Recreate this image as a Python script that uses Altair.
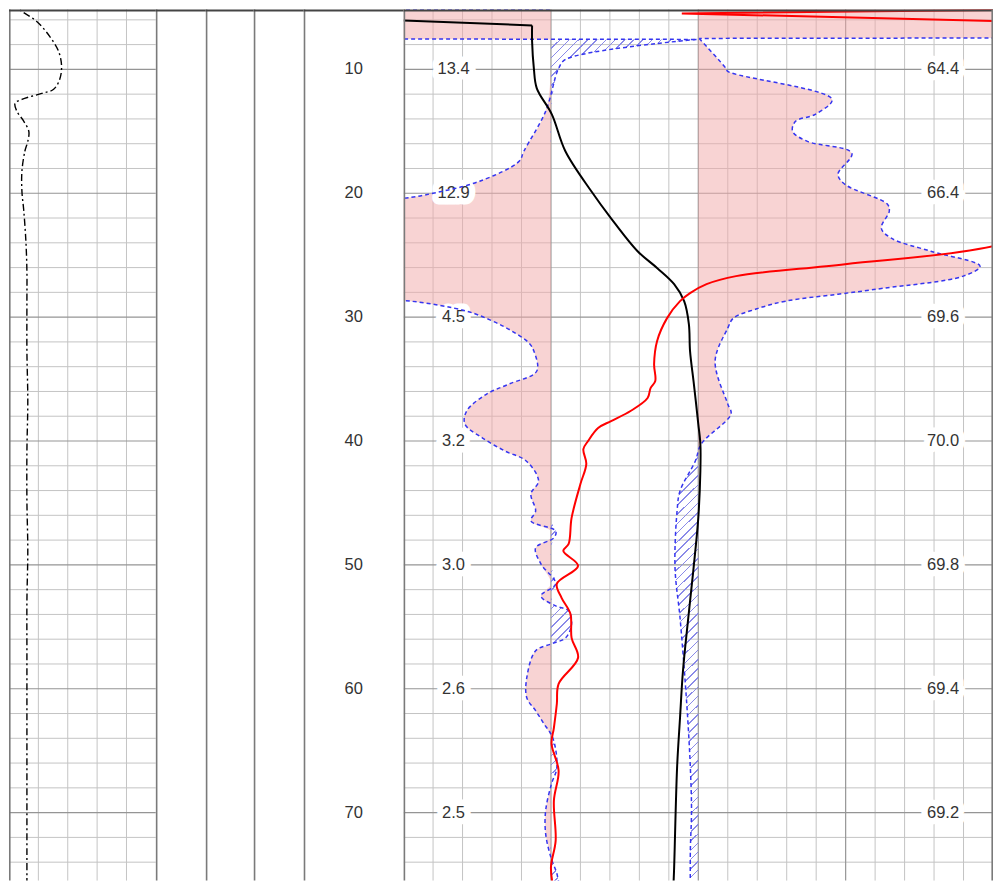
import math
import altair as alt
import pandas as pd

# ---------------- depth frame ----------------
H = 872
D0 = 5.1613
D1 = 75.484

# ---------------- data ----------------
# Track 1 dash-dot curve (value in % of track width)
t1_depth = [4.68, 5.32, 6.13, 7.34, 8.55, 9.76, 10.81, 11.61, 11.94, 12.42,
            12.74, 13.39, 14.19, 15.0, 15.81, 16.61, 18.23, 19.84, 21.45, 23.87,
            26.29, 28.71, 32.74, 36.77, 40.81, 44.84, 48.87, 52.9, 56.94, 60.97,
            65.0, 69.03, 73.06, 76.6]
t1_value = [2.0, 8.8, 18.9, 27.7, 33.8, 35.8, 34.5, 30.4, 22.3, 8.8,
            4.1, 5.4, 10.1, 13.5, 12.8, 10.8, 8.8, 8.8, 10.1, 11.5,
            12.2, 12.2, 12.2, 12.8, 12.2, 12.2, 12.8, 12.2, 12.2, 12.2,
            12.2, 12.2, 12.2, 12.2]

# Black solid curve (scale 60-80)
black_depth = [6.05, 6.45, 7.74, 9.92, 11.53, 13.63, 16.61, 19.84, 22.02, 24.68,
               26.05, 27.34, 28.71, 30.56, 32.74, 35.40, 38.63, 40.24, 42.42, 46.21,
               50.48, 54.27, 58.55, 62.34, 66.37, 74.44, 76.29]
black_value = [60.0, 64.36, 64.36, 64.42, 64.52, 65.03, 65.49, 66.37, 67.04, 67.94,
               68.61, 69.18, 69.52, 69.68, 69.72, 69.85, 70.0, 70.07, 70.07, 70.0,
               69.83, 69.66, 69.48, 69.38, 69.28, 69.18, 69.15]
BLACK_SPLIT = 6.45

# Red solid curve (scale 0-10)
red_depth = [5.2, 5.48, 6.09, 6.5, 10.0, 20.0, 24.27, 25.73, 26.69, 27.34,
             28.06, 28.71, 30.08, 31.94, 33.79, 35.16, 35.73, 36.53, 37.58, 38.39,
             38.95, 40.0, 40.65, 41.85, 43.47, 46.21, 48.31, 48.87, 50.08, 51.53,
             52.66, 53.95, 55.89, 57.5, 59.6, 61.21, 63.15, 64.44, 66.61, 69.03,
             72.26, 74.44, 76.29]
red_value = [10.0, 4.72, 10.0, 12.0, 13.4, 12.9, 10.0, 7.49, 5.64, 5.14,
             4.86, 4.69, 4.47, 4.30, 4.25, 4.27, 4.19, 4.14, 3.85, 3.52,
             3.30, 3.13, 3.05, 3.10, 3.00, 2.85, 2.80, 2.71, 2.96, 2.60,
             2.68, 2.83, 2.85, 2.96, 2.63, 2.60, 2.55, 2.51, 2.63, 2.55,
             2.58, 2.50, 2.55]
RED_SPLIT = 6.5

# Left blue dashed curve (scale 0-10, cutoff 2.5)
left_depth = [4.68, 5.16, 5.2, 7.54, 7.58, 9.19, 9.92, 13.39, 16.61, 17.42,
              19.03, 20.0, 20.4, 20.48, 28.47, 28.71, 29.52, 30.32, 31.13, 32.1,
              32.74, 34.35, 35.4, 36.21, 37.58, 38.63, 39.76, 40.81, 41.61, 43.23,
              44.27, 45.65, 46.45, 47.26, 47.82, 48.63, 49.92, 51.53, 52.5, 53.31,
              53.71, 54.76, 55.89, 56.37, 56.94, 59.11, 60.73, 61.77, 62.82, 63.95,
              66.37, 67.66, 69.84, 71.69, 73.63, 74.92, 76.45]
left_value = [2.5, 2.5, -1, -1, 4.97, 2.75, 2.63, 2.41, 2.04, 1.96,
              1.29, 0.50, 0.0, -1, -1, 0.12, 1.07, 1.51, 1.84, 2.13,
              2.21, 2.26, 1.79, 1.41, 1.07, 1.04, 1.34, 1.72, 2.08, 2.29,
              2.16, 2.24, 2.16, 2.58, 2.55, 2.24, 2.33, 2.58, 2.33, 2.58,
              2.80, 2.85, 2.75, 2.51, 2.24, 2.09, 2.09, 2.24, 2.38, 2.53,
              2.60, 2.51, 2.41, 2.41, 2.50, 2.60, 2.66]
LEFT_CUT = 2.5
LEFT_SPLIT = 7.58

# Right blue dashed curve (scale 60-80, cutoff 70)
right_depth = [4.68, 7.46, 7.5, 9.92, 10.16, 12.42, 13.63, 14.19, 15.0, 15.81,
               16.77, 18.47, 19.27, 20.89, 21.45, 22.82, 23.63, 24.68, 25.89, 26.69,
               27.66, 28.15, 28.71, 29.35, 30.08, 30.89, 33.55, 37.02, 37.82, 40.24,
               41.61, 44.03, 45.65, 50.24, 54.27, 59.6, 63.15, 66.37, 69.84, 73.06,
               76.45]
right_value = [82, 82, 70.03, 70.94, 71.0, 74.54, 73.97, 73.3, 73.2, 73.7,
               75.21, 74.74, 74.97, 76.42, 76.48, 76.21, 76.55, 77.89, 79.56, 78.99,
               76.31, 74.74, 72.96, 71.96, 71.19, 71.0, 70.57, 71.0, 71.11, 70.1,
               69.9, 69.38, 69.28, 69.21, 69.38, 69.56, 69.66, 69.73, 69.77, 69.73,
               69.73]
RIGHT_CUT = 70
RIGHT_SPLIT = 7.5

# Labels
label_depths = [10, 20, 30, 40, 50, 60, 70]
red_labels = ["13.4", "12.9", "4.5", "3.2", "3.0", "2.6", "2.5"]
black_labels = ["64.4", "66.4", "69.6", "70.0", "69.8", "69.4", "69.2"]

# Grid
grid_minor_depths = [d for d in range(6, 76, 2) if d % 10 != 0]
grid_major_depths = [10, 20, 30, 40, 50, 60, 70]
t1_vgrid = [20, 40, 60, 80]
main_vminor = [u for u in range(1, 20) if u % 5 != 0]
main_vmajor = [5, 10, 15]

# ---------------- style ----------------
FONT = "Liberation Sans"
FS = 16.5
MINOR = "#c4c4c4"
MAJOR = "#959595"
BORDER = "#7a7a7a"
PINK = "#f2a8a8"
HATCH = "#8a8ae8"
BLUE = "#3535f0"
SMOOTH = "catmull-rom"

W1, W2, W3, W4, WD, WM = 147, 50, 48, 50, 100, 590
PX_PER_DEPTH = H / (D1 - D0)

x_t1 = alt.Scale(domain=[0, 100], nice=False, zero=False)
x_div = alt.Scale(domain=[0, 20], nice=False, zero=False)
x_red = alt.Scale(domain=[0, 10], nice=False, zero=False)
x_blk = alt.Scale(domain=[60, 80], nice=False, zero=False)


def split(depths, values, at):
    top = [(d, v) for d, v in zip(depths, values) if d <= at]
    rest = [(d, v) for d, v in zip(depths, values) if d >= at]
    return (pd.DataFrame(top, columns=["d", "v"]), pd.DataFrame(rest, columns=["d", "v"]))


def hatch_gradient(w, h, spacing=6.5, lw=1.1, color=HATCH):
    """Diagonal '/' stripes as a hard-stop linear gradient in bounding-box units."""
    L = h * (1 + (w / h) ** 2)
    period = spacing * math.sqrt(2) / L
    line = lw * math.sqrt(2) / L
    clear = "rgba(255,255,255,0)"
    stops = []
    t = 0.0
    while t < 1.0:
        e = min(t + line, 1.0)
        stops += [alt.GradientStop(offset=t, color=clear), alt.GradientStop(offset=t, color=color),
                  alt.GradientStop(offset=e, color=color), alt.GradientStop(offset=e, color=clear)]
        t += period
    return alt.LinearGradient(gradient="linear", stops=stops, x1=0, y1=0, x2=w / h, y2=1)


def yenc(field="d"):
    return alt.Y(f"{field}:Q",
                 scale=alt.Scale(domain=[D0, D1], reverse=True, nice=False, zero=False),
                 axis=None)


def hgrid(depths, color, width=1.0):
    return alt.Chart(pd.DataFrame({"d": depths})).mark_rule(
        color=color, strokeWidth=width, clip=True).encode(y=yenc())


def borders(width, right=False):
    layers = [
        alt.Chart(pd.DataFrame({"z": [0]})).mark_rule(color=BORDER, strokeWidth=1.6).encode(
            x=alt.value(0.8), y=alt.value(0), y2=alt.value(H)),
        alt.Chart(pd.DataFrame({"z": [0]})).mark_rule(color="#444444", strokeWidth=2).encode(
            x=alt.value(0), x2=alt.value(width), y=alt.value(1)),
    ]
    if right:
        layers.append(
            alt.Chart(pd.DataFrame({"z": [0]})).mark_rule(color=BORDER, strokeWidth=1.6).encode(
                x=alt.value(width - 0.8), y=alt.value(0), y2=alt.value(H)))
    return layers


def curve(df, scale, color, width, interp, dash=None):
    kw = dict(color=color, strokeWidth=width, clip=True, interpolate=interp)
    if dash:
        kw["strokeDash"] = dash
    return alt.Chart(df).mark_line(**kw).encode(
        x=alt.X("v:Q", scale=scale, axis=None), y=yenc(), order="d:Q")


def fills(df, scale, cut, px_per_unit, pink_low, interp):
    """Pink fill on one side of the cutoff, blue hatch on the other."""
    base = alt.Chart(df).transform_calculate(
        cut=f"{cut}", lo=f"min(datum.v, {cut})", hi=f"max(datum.v, {cut})")
    pink_f, hatch_f = ("lo", "hi") if pink_low else ("hi", "lo")
    out = [base.mark_area(orient="horizontal", color=PINK, opacity=0.5, clip=True,
                          interpolate=interp).encode(
        x=alt.X(f"{pink_f}:Q", scale=scale, axis=None), x2="cut:Q", y=yenc())]
    if hatch_f == "hi":
        w = (max(max(df.v), cut) - cut) * px_per_unit
    else:
        w = (cut - min(min(df.v), cut)) * px_per_unit
    h = (df.d.max() - df.d.min()) * PX_PER_DEPTH
    if w > 1:
        out.append(base.mark_area(orient="horizontal", color=hatch_gradient(w, h), clip=True,
                                  interpolate=interp).encode(
            x=alt.X(f"{hatch_f}:Q", scale=scale, axis=None), x2="cut:Q", y=yenc()))
    return out


# ---------------- track 1 ----------------
t1_v = alt.Chart(pd.DataFrame({"u": t1_vgrid})).mark_rule(color=MINOR, strokeWidth=1).encode(
    x=alt.X("u:Q", scale=x_t1, axis=None))
t1_curve = curve(pd.DataFrame({"d": t1_depth, "v": t1_value}), x_t1, "black", 1.4, SMOOTH,
                 dash=[7, 3, 2, 3])
track1 = alt.layer(t1_v, hgrid(grid_minor_depths, MINOR), hgrid(grid_major_depths, MAJOR, 1.2),
                   t1_curve, *borders(W1)).properties(width=W1, height=H)

# ---------------- blank tracks ----------------
track2 = alt.layer(*borders(W2)).properties(width=W2, height=H)
track3 = alt.layer(*borders(W3)).properties(width=W3, height=H)
track4 = alt.layer(*borders(W4)).properties(width=W4, height=H)

# ---------------- depth track ----------------
depth_text = alt.Chart(pd.DataFrame({"d": label_depths})).mark_text(
    font=FONT, fontSize=FS, color="#333333", align="center", baseline="middle").encode(
    y=yenc(), x=alt.value(WD / 2), text=alt.Text("d:Q", format="d"))
trackd = alt.layer(depth_text, *borders(WD)).properties(width=WD, height=H)

# ---------------- main track ----------------
m_vminor = alt.Chart(pd.DataFrame({"u": main_vminor})).mark_rule(color=MINOR, strokeWidth=1).encode(
    x=alt.X("u:Q", scale=x_div, axis=None))
m_vmajor = alt.Chart(pd.DataFrame({"u": main_vmajor})).mark_rule(color=MAJOR, strokeWidth=1.2).encode(
    x=alt.X("u:Q", scale=x_div, axis=None))

lab_df = pd.DataFrame({"d": label_depths, "r": red_labels, "b": black_labels})
RED_LX, BLK_LX = 50, 540


def label_layer(field, xpos, halo):
    if halo:
        mk = alt.Chart(lab_df).mark_text(font=FONT, fontSize=FS, color="white", stroke="white",
                                         strokeWidth=13, strokeJoin="round",
                                         align="center", baseline="middle")
    else:
        mk = alt.Chart(lab_df).mark_text(font=FONT, fontSize=FS, color="#333333",
                                         align="center", baseline="middle")
    return mk.encode(y=yenc(), x=alt.value(xpos), text=f"{field}:N")


RED_PX = WM / 10
BLK_PX = WM / 20

left_top, left_rest = split(left_depth, left_value, LEFT_SPLIT)
right_top, right_rest = split(right_depth, right_value, RIGHT_SPLIT)
black_top, black_rest = split(black_depth, black_value, BLACK_SPLIT)
red_top, red_rest = split(red_depth, red_value, RED_SPLIT)

fill_layers = (fills(left_top, x_red, LEFT_CUT, RED_PX, True, "linear")
               + fills(left_rest, x_red, LEFT_CUT, RED_PX, True, SMOOTH)
               + fills(right_top, x_blk, RIGHT_CUT, BLK_PX, False, "linear")
               + fills(right_rest, x_blk, RIGHT_CUT, BLK_PX, False, SMOOTH))

line_layers = [
    curve(left_top, x_red, BLUE, 1.5, "linear", dash=[4, 3]),
    curve(left_rest, x_red, BLUE, 1.5, SMOOTH, dash=[4, 3]),
    curve(right_top, x_blk, BLUE, 1.5, "linear", dash=[4, 3]),
    curve(right_rest, x_blk, BLUE, 1.5, SMOOTH, dash=[4, 3]),
    curve(black_top, x_blk, "black", 2, "linear"),
    curve(black_rest, x_blk, "black", 2, SMOOTH),
    curve(red_top, x_red, "#ff0000", 2, "linear"),
    curve(red_rest, x_red, "#ff0000", 2, SMOOTH),
]

main = alt.layer(
    m_vminor, hgrid(grid_minor_depths, MINOR), m_vmajor, hgrid(grid_major_depths, MAJOR, 1.2),
    *fill_layers,
    label_layer("r", RED_LX, True), label_layer("b", BLK_LX, True),
    label_layer("r", RED_LX, False), label_layer("b", BLK_LX, False),
    *line_layers,
    *borders(WM, right=True)
).resolve_scale(x="independent").properties(width=WM, height=H)

chart = alt.hconcat(track1, track2, track3, track4, trackd, main, spacing=0, bounds="flush").properties(
    padding=0, background="white"
).configure_view(stroke=None)

chart.save("out.html", embed_options={"renderer": "svg", "actions": False})
